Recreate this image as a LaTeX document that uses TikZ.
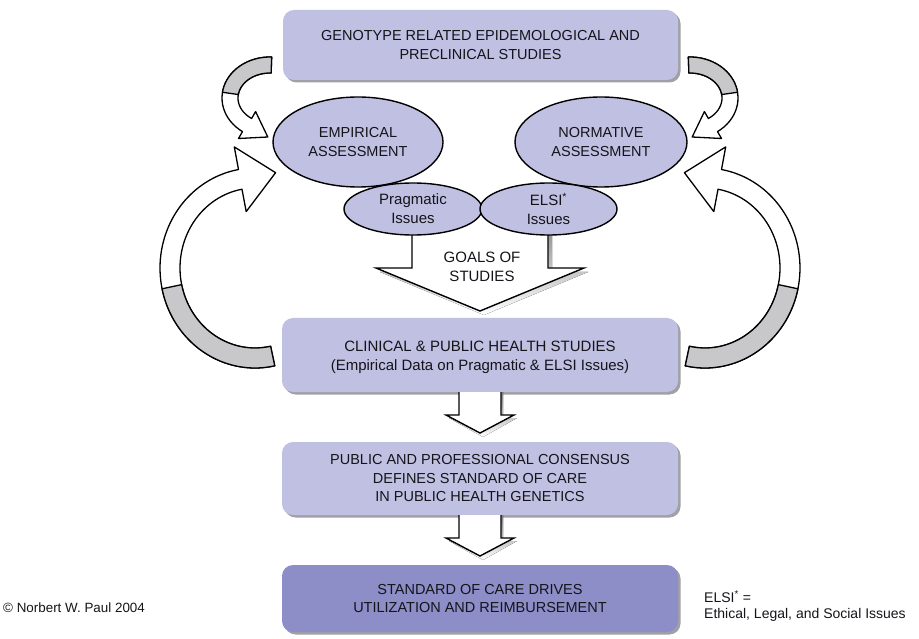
\documentclass[tikz,border=0pt]{standalone}
\usepackage{fontspec}
\setmainfont{Liberation Sans}
\usetikzlibrary{shapes.geometric,shadows}
\definecolor{lav}{RGB}{192,192,226}
\definecolor{lavdark}{RGB}{141,141,200}
\definecolor{ribbon}{RGB}{200,200,202}
\definecolor{ink}{RGB}{20,20,26}
\definecolor{shade}{RGB}{120,120,128}
\begin{document}
\begin{tikzpicture}[x=1pt,y=-1pt,
  every node/.style={text=ink,font=\fontsize{14.5}{19.5}\selectfont},
  box/.style={rounded corners=11pt,fill=lav,align=center,inner sep=0pt,
    drop shadow={shadow xshift=2.5pt,shadow yshift=-2.5pt,fill=shade,opacity=.7}},
  oval/.style={ellipse,draw=black,line width=1.4pt,fill=lav,align=center,inner sep=0pt},
  band/.style={draw=black,line width=1.3pt,fill=white,line join=round},
  downarrow/.style={draw=black,line width=1.4pt,fill=white,line join=miter}]
\useasboundingbox (0,0) rectangle (919,639);

% ---------- big ribbon arrow (left); its mirror image is drawn on the right ----------
\newcommand{\bigribbon}{%
  \path[band] plot[domain=78:260,samples=40,smooth] ({255+95*cos(\x)},{268+100*sin(\x)})
    -- (234.3,146.9) -- (275.6,172.7) -- (246.2,211.6)
    -- plot[domain=260:78,samples=40,smooth] ({255+75*cos(\x)},{268+80*sin(\x)}) -- cycle;
  \path[fill=ribbon,draw=black,line width=1.3pt,line join=round]
    plot[domain=78:168,samples=25,smooth] ({255+95*cos(\x)},{268+100*sin(\x)})
    -- plot[domain=168:78,samples=25,smooth] ({255+75*cos(\x)},{268+80*sin(\x)}) -- cycle;}
% ---------- small ribbon arrow from the top box (left) ----------
\newcommand{\smallribbon}{%
  \path[band] plot[domain=272:125,samples=30,smooth] ({270+48*cos(\x)},{98+41*sin(\x)})
    -- (238.5,138.5) -- (267.8,137) -- (255.6,111.6)
    -- plot[domain=125:272,samples=30,smooth] ({270+32*cos(\x)},{98+25*sin(\x)}) -- cycle;
  \path[fill=ribbon,draw=black,line width=1.3pt,line join=round]
    plot[domain=272:188,samples=20,smooth] ({270+48*cos(\x)},{98+41*sin(\x)})
    -- plot[domain=188:272,samples=20,smooth] ({270+32*cos(\x)},{98+25*sin(\x)}) -- cycle;}

\bigribbon
\smallribbon
\begin{scope}[shift={(960,0)},xscale=-1]
  \bigribbon
  \smallribbon
\end{scope}

% ---------- wide arrow: goals of studies ----------
\fill[shade] (416,215) -- (416,272) -- (380,272) -- (484,315) -- (588,272) -- (552,272) -- (552,215) -- cycle;
\fill[white] (412,215) -- (412,268) -- (376,268) -- (480,311) -- (584,268) -- (548,268) -- (548,215) -- cycle;
\draw[downarrow] (412,215) -- (412,268) -- (376,268) -- (480,311) -- (584,268) -- (548,268) -- (548,215);
\node[align=center,font=\fontsize{15}{19}\selectfont] (goals) at (482,267) {GOALS OF\\STUDIES};

% ---------- boxes ----------
\node[box,minimum width=395pt,minimum height=70pt] (geno) at (480.5,45)
  {GENOTYPE RELATED EPIDEMOLOGICAL AND\\PRECLINICAL STUDIES};
\node[box,minimum width=396pt,minimum height=74pt] (clin) at (480,355) {};
\node[align=center,font=\fontsize{15}{19}\selectfont] (clintext) at (480,357.5)
  {CLINICAL \& PUBLIC HEALTH STUDIES\\(Empirical Data on Pragmatic \& ELSI Issues)};
\node[box,minimum width=396pt,minimum height=73pt] (cons) at (480,478.5)
  {PUBLIC AND PROFESSIONAL CONSENSUS\\[-1pt]DEFINES STANDARD OF CARE\\[-1pt]IN PUBLIC HEALTH GENETICS};
\node[box,fill=lavdark,minimum width=396pt,minimum height=67pt] (care) at (480,598.5)
  {STANDARD OF CARE DRIVES\\[-2pt]UTILIZATION AND REIMBURSEMENT};

% ---------- small down arrows between the boxes ----------
\foreach \top/\bot in {392/433,515/556}{
  \fill[shade] (463,\top) -- (463,\bot-18+3) -- (449,\bot-18+3) -- (483,\bot+4) -- (517,\bot-18+3) -- (503,\bot-18+3) -- (503,\top) -- cycle;
  \fill[white] (459,\top) -- (459,\bot-18) -- (446,\bot-18) -- (480,\bot) -- (514,\bot-18) -- (501,\bot-18) -- (501,\top) -- cycle;
  \draw[downarrow] (459,\top) -- (459,\bot-18) -- (446,\bot-18) -- (480,\bot) -- (514,\bot-18) -- (501,\bot-18) -- (501,\top);
}

% ---------- assessments ----------
\node[oval,minimum width=170pt,minimum height=90pt] (emp) at (358,142) {EMPIRICAL\\ASSESSMENT};
\node[oval,minimum width=172pt,minimum height=90pt] (norm) at (601,142) {NORMATIVE\\ASSESSMENT};
\node[oval,minimum width=138pt,minimum height=52pt,font=\fontsize{15}{19}\selectfont] (prag) at (413,209) {Pragmatic\\Issues};
\node[oval,minimum width=137pt,minimum height=52pt,font=\fontsize{15}{19}\selectfont] (elsi) at (548.5,209) {ELSI\textsuperscript{*}\\Issues};

% ---------- footnotes ----------
\node[anchor=west,inner sep=0pt,font=\fontsize{13.4}{16}\selectfont] (copy) at (3,608) {© Norbert W. Paul 2004};
\node[anchor=west,inner sep=0pt,align=left,font=\fontsize{14}{16}\selectfont] (note) at (704,606)
  {ELSI\textsuperscript{*} =\\Ethical, Legal, and Social Issues};
\end{tikzpicture}
\end{document}
